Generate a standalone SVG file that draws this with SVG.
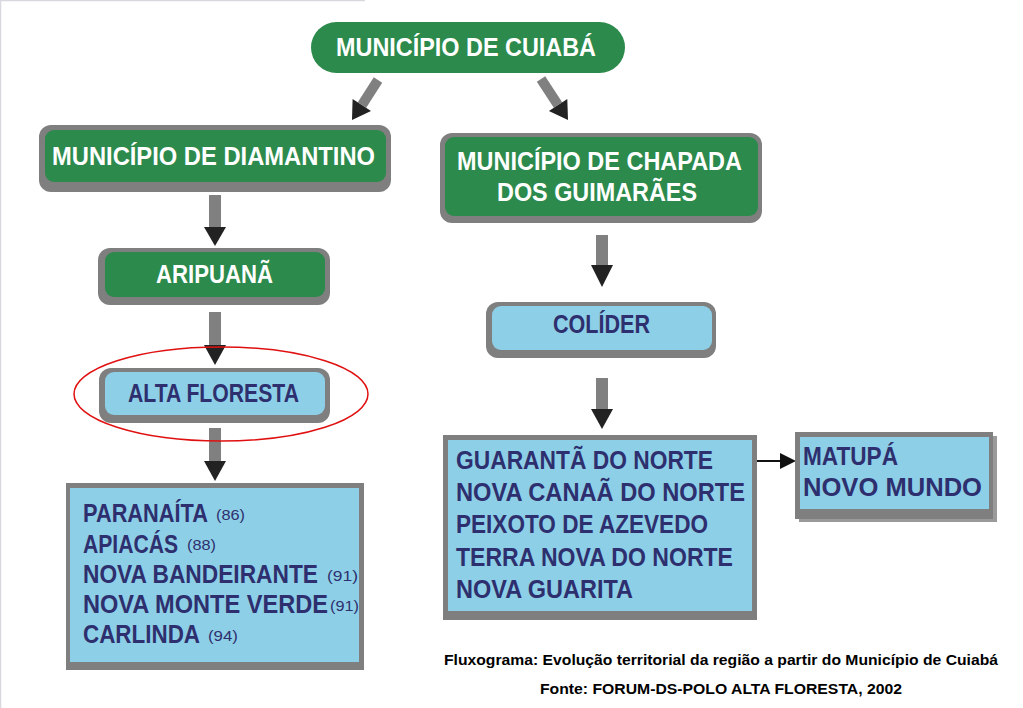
<svg xmlns="http://www.w3.org/2000/svg" width="1023" height="708" viewBox="0 0 1023 708">
<style>
.frame{fill:#7f7f7f}
.green{fill:#2b8a4c}
.blue{fill:#8dcfe7}
.wt{font-family:"Liberation Sans",Arial,sans-serif;font-weight:bold;fill:#ffffff;font-size:25.5px}
.nt{font-family:"Liberation Sans",Arial,sans-serif;font-weight:bold;fill:#2e2f6e;font-size:25.5px}
.yr{font-family:"Liberation Sans",Arial,sans-serif;fill:#2e2f6e;font-size:15px}
.cap{font-family:"Liberation Sans",Arial,sans-serif;font-weight:bold;fill:#000;font-size:14px}
.shaft{fill:#808080}
.head{fill:#222222}
</style>
<rect x="0" y="0" width="1023" height="708" fill="#ffffff"/>
<line x1="0" y1="0.5" x2="365" y2="0.5" stroke="#d8d8de" stroke-width="1.5"/>
<line x1="0.5" y1="0" x2="0.5" y2="708" stroke="#d8d8de" stroke-width="1.5"/>

<g id="connectors">
  <line x1="378" y1="80" x2="362" y2="105" stroke="#808080" stroke-width="10"/>
  <polygon class="head" points="371,110.9 352.6,98.9 352,120"/>
  <line x1="541" y1="79" x2="558" y2="105" stroke="#808080" stroke-width="10"/>
  <polygon class="head" points="567.3,98.9 548.9,111.1 568,120"/>
  <rect class="shaft" x="209" y="195" width="12" height="33"/>
  <polygon class="head" points="204,227 226,227 215,246"/>
  <rect class="shaft" x="209" y="312" width="12" height="34"/>
  <polygon class="head" points="204,345 226,345 215,365"/>
  <rect class="shaft" x="209" y="428" width="12" height="35"/>
  <polygon class="head" points="204,461 226,461 215,481"/>
  <rect class="shaft" x="596" y="235" width="12" height="31"/>
  <polygon class="head" points="591,265 613,265 602,287"/>
  <rect class="shaft" x="596" y="378" width="12" height="33"/>
  <polygon class="head" points="591,409 613,409 602,429"/>
  <line x1="718" y1="461" x2="782" y2="461" stroke="#111" stroke-width="2"/>
  <polygon points="780,453 796,461 780,469" fill="#111"/>
</g>

<g id="cuiaba">
  <rect class="green" x="311" y="22" width="314" height="51" rx="25.5"/>
  <text class="wt" x="336" y="56" textLength="260" lengthAdjust="spacingAndGlyphs">MUNICÍPIO DE CUIABÁ</text>
</g>

<g id="diamantino">
  <rect class="frame" x="39" y="125" width="352" height="67" rx="12"/>
  <rect class="green" x="45" y="130" width="341" height="52" rx="9"/>
  <text class="wt" x="52" y="165" textLength="323" lengthAdjust="spacingAndGlyphs">MUNICÍPIO DE DIAMANTINO</text>
</g>

<g id="aripuana">
  <rect class="frame" x="98" y="248" width="232" height="57" rx="12"/>
  <rect class="green" x="105" y="252" width="220" height="45" rx="9"/>
  <text class="wt" x="156" y="283" textLength="117" lengthAdjust="spacingAndGlyphs">ARIPUANÃ</text>
</g>

<g id="alta-floresta">
  <rect class="frame" x="99" y="368" width="231" height="55" rx="12"/>
  <rect class="blue" x="105" y="372" width="220" height="43" rx="9"/>
  <text class="nt" x="128" y="402" textLength="171" lengthAdjust="spacingAndGlyphs">ALTA FLORESTA</text>
  <ellipse cx="221" cy="394" rx="147" ry="47" fill="none" stroke="#e01010" stroke-width="1.5"/>
</g>

<g id="lista-alta-floresta">
  <rect class="frame" x="66" y="483" width="298" height="187"/>
  <rect class="blue" x="70" y="488" width="289" height="174"/>
  <text class="nt" x="83" y="522" textLength="125" lengthAdjust="spacingAndGlyphs">PARANAÍTA</text>
  <text class="yr" x="216" y="520" textLength="29" lengthAdjust="spacingAndGlyphs">(86)</text>
  <text class="nt" x="83" y="553" textLength="95" lengthAdjust="spacingAndGlyphs">APIACÁS</text>
  <text class="yr" x="187" y="550" textLength="29" lengthAdjust="spacingAndGlyphs">(88)</text>
  <text class="nt" x="83" y="583" textLength="235" lengthAdjust="spacingAndGlyphs">NOVA BANDEIRANTE</text>
  <text class="yr" x="327" y="581" textLength="31" lengthAdjust="spacingAndGlyphs">(91)</text>
  <text class="nt" x="83" y="613" textLength="245" lengthAdjust="spacingAndGlyphs">NOVA MONTE VERDE</text>
  <text class="yr" x="330" y="611" textLength="29" lengthAdjust="spacingAndGlyphs">(91)</text>
  <text class="nt" x="83" y="643" textLength="117" lengthAdjust="spacingAndGlyphs">CARLINDA</text>
  <text class="yr" x="208" y="641" textLength="30" lengthAdjust="spacingAndGlyphs">(94)</text>
</g>

<g id="chapada">
  <rect class="frame" x="440" y="133" width="322" height="90" rx="12"/>
  <rect class="green" x="445" y="137" width="313" height="79" rx="9"/>
  <text class="wt" x="457" y="170" textLength="285" lengthAdjust="spacingAndGlyphs">MUNICÍPIO DE CHAPADA</text>
  <text class="wt" x="497" y="201" textLength="200" lengthAdjust="spacingAndGlyphs">DOS GUIMARÃES</text>
</g>

<g id="colider">
  <rect class="frame" x="486" y="302" width="230" height="56" rx="12"/>
  <rect class="blue" x="492" y="306" width="220" height="44" rx="9"/>
  <text class="nt" x="553" y="333" textLength="97" lengthAdjust="spacingAndGlyphs">COLÍDER</text>
</g>

<g id="lista-colider">
  <rect class="frame" x="443" y="435" width="314" height="185"/>
  <rect class="blue" x="448" y="440" width="304" height="171"/>
  <text class="nt" x="456" y="469" textLength="257" lengthAdjust="spacingAndGlyphs">GUARANTÃ DO NORTE</text>
  <text class="nt" x="456" y="501" textLength="289" lengthAdjust="spacingAndGlyphs">NOVA CANAÃ DO NORTE</text>
  <text class="nt" x="456" y="533" textLength="252" lengthAdjust="spacingAndGlyphs">PEIXOTO DE AZEVEDO</text>
  <text class="nt" x="456" y="566" textLength="277" lengthAdjust="spacingAndGlyphs">TERRA NOVA DO NORTE</text>
  <text class="nt" x="456" y="598" textLength="177" lengthAdjust="spacingAndGlyphs">NOVA GUARITA</text>
</g>

<g id="matupa">
  <rect x="799" y="436" width="198" height="86" fill="#9a9a9a"/>
  <rect class="frame" x="795" y="432" width="198" height="87"/>
  <rect class="blue" x="800" y="437" width="189" height="72"/>
  <text class="nt" x="803" y="465" textLength="95" lengthAdjust="spacingAndGlyphs">MATUPÁ</text>
  <text class="nt" x="803" y="496" textLength="179" lengthAdjust="spacingAndGlyphs">NOVO MUNDO</text>
</g>

<g id="legenda">
  <text class="cap" x="721" y="665" text-anchor="middle" textLength="554" lengthAdjust="spacingAndGlyphs">Fluxograma: Evolução territorial da região a partir do Município de Cuiabá</text>
  <text class="cap" x="721" y="694" text-anchor="middle" textLength="362" lengthAdjust="spacingAndGlyphs">Fonte: FORUM-DS-POLO ALTA FLORESTA, 2002</text>
</g>
</svg>
